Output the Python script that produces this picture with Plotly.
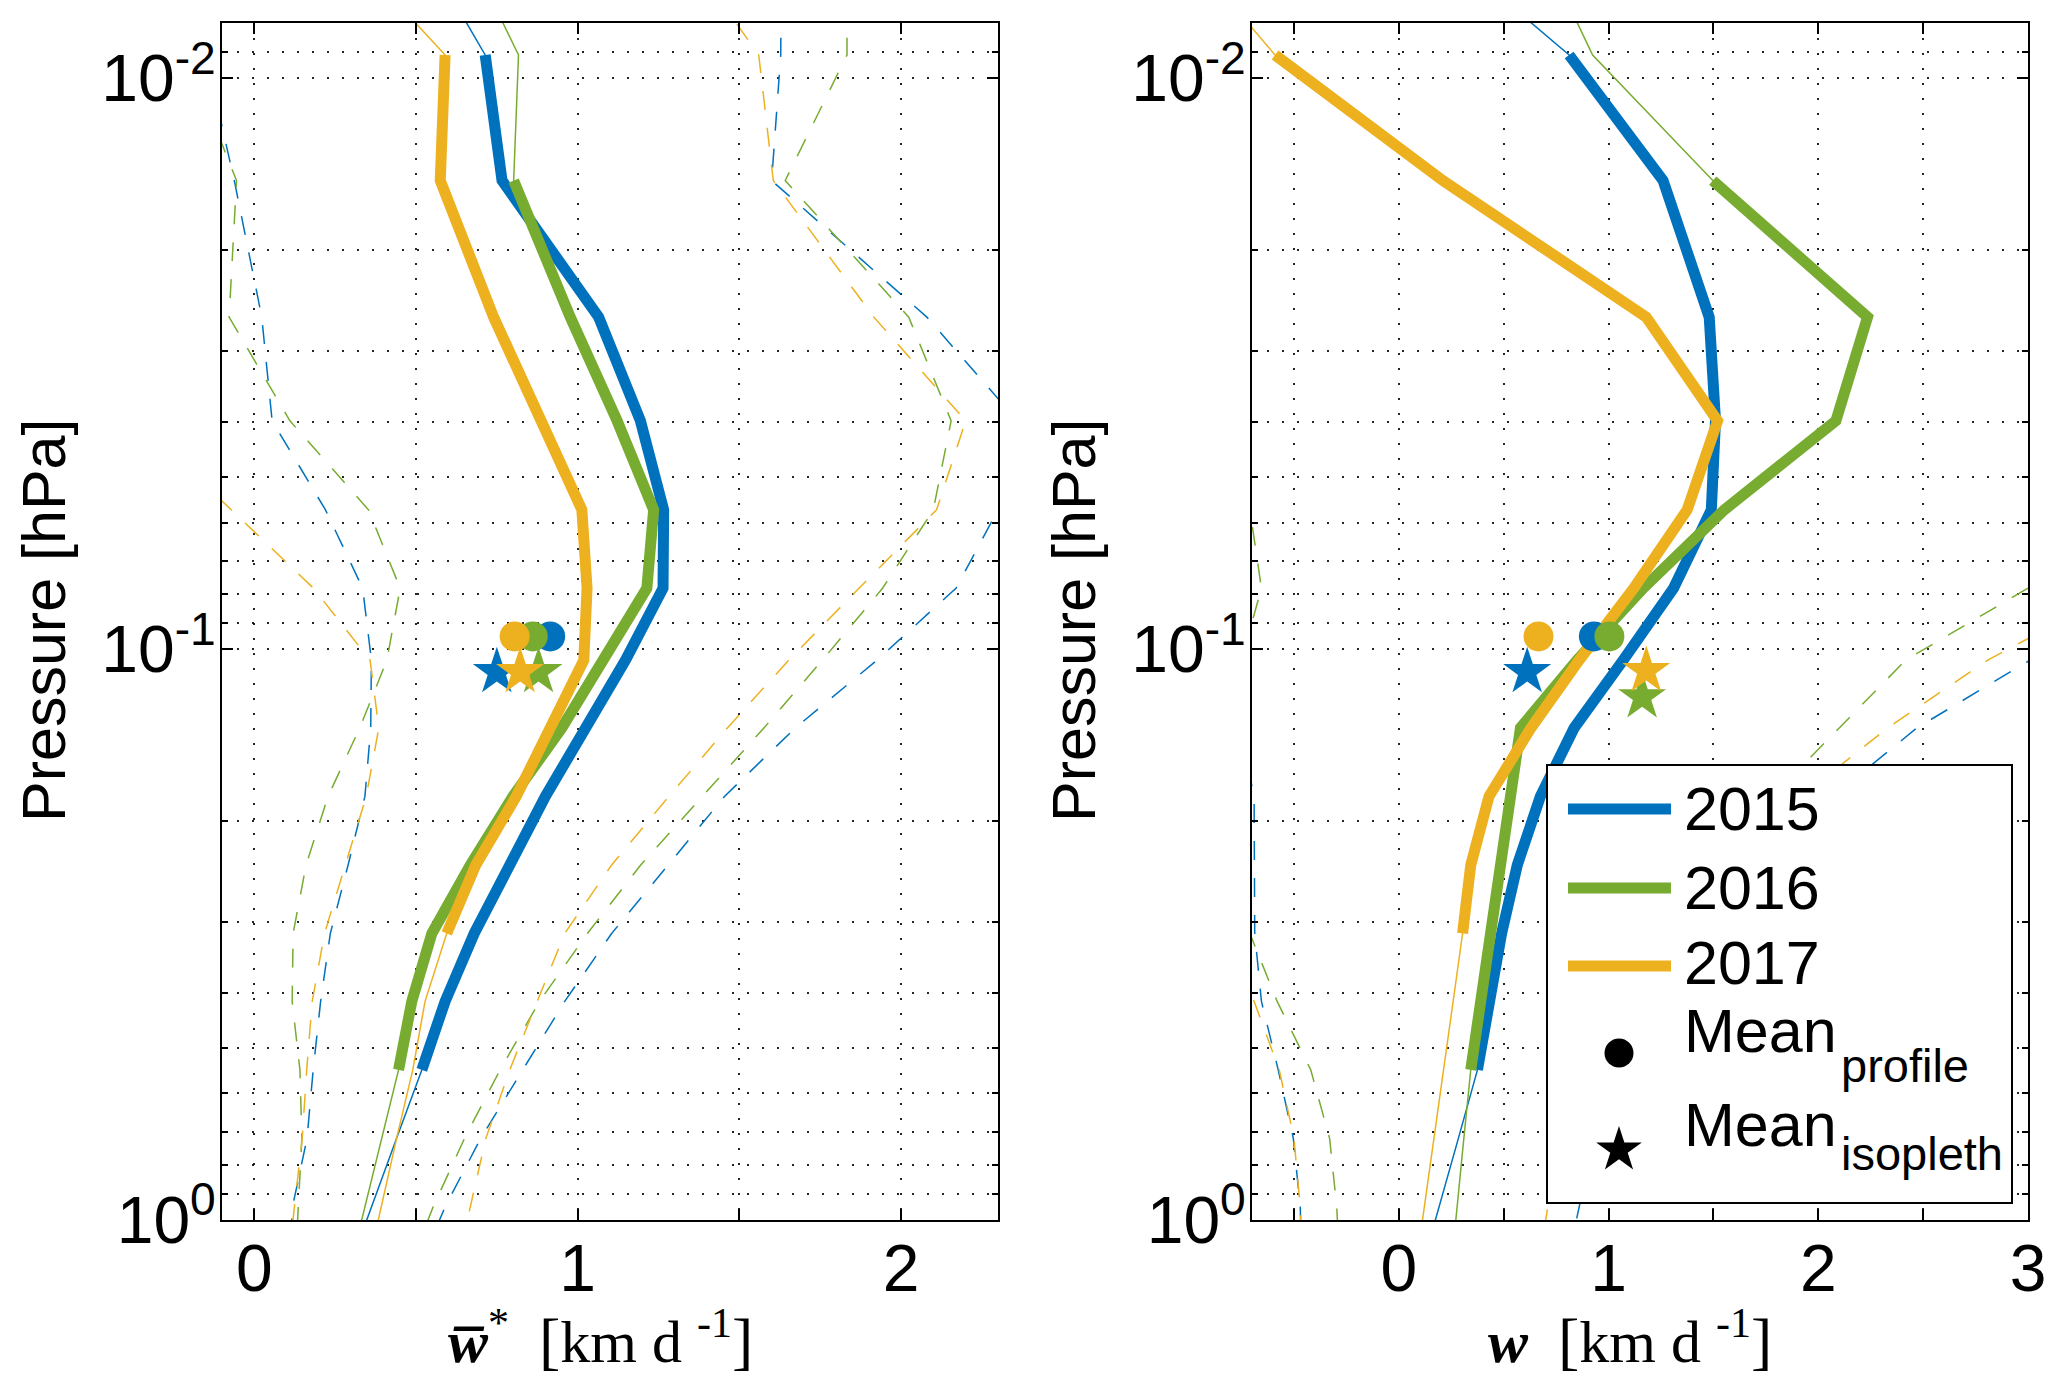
import math
import plotly.graph_objects as go

W, H = 2067, 1387
PAGE_OFF = 8  # default body margin of the html page (figure is drawn 8 px right/down)

# ---------------- data ----------------
# pressure levels (hPa) of the profiles
PRESSURE = [0.0063, 0.0091, 0.0151, 0.0262, 0.0398, 0.0570, 0.0782, 0.1045, 0.1374,
            0.1811, 0.2388, 0.3148, 0.4140, 0.5458, 0.7194, 0.9484, 1.25]
YEARS = ["2015", "2016", "2017"]
COLORS = ["#0072BD", "#77AC30", "#EDB120"]
THICK_START = [1, 2, 1]      # first level index of the bold part
THICK_END = [13, 13, 11]     # last level index of the bold part

# left panel: w-bar-star [km/d]
WSTAR_2015 = [0.55, 0.714, 0.766, 1.065, 1.194, 1.266, 1.264, 1.148, 1.029, 0.90, 0.79, 0.68, 0.59, 0.518, 0.44, 0.363, 0.285]
WSTAR_2016 = [0.68, 0.817, 0.802, 0.977, 1.122, 1.235, 1.214, 1.080, 0.951, 0.80, 0.668, 0.549, 0.487, 0.446, 0.394, 0.342, 0.29]
WSTAR_2017 = [0.33, 0.590, 0.575, 0.740, 0.887, 1.013, 1.029, 1.019, 0.915, 0.81, 0.685, 0.595, 0.528, 0.49, 0.44, 0.393, 0.345]
WSTAR_2015_LO = [-0.22, -0.15, -0.062, 0.023, 0.055, 0.22, 0.335, 0.362, 0.36, 0.342, 0.29, 0.235, 0.205, 0.182, 0.163, 0.118, 0.105]
WSTAR_2016_LO = [-0.33, -0.21, -0.055, -0.078, 0.11, 0.353, 0.451, 0.41, 0.326, 0.228, 0.16, 0.12, 0.117, 0.141, 0.147, 0.136, 0.125]
WSTAR_2017_LO = [None, None, None, None, -0.36, -0.073, 0.183, 0.358, 0.385, 0.346, 0.281, 0.217, 0.179, 0.162, 0.148, 0.123, 0.10]
WSTAR_2015_HI = [1.63, 1.628, 1.60, 2.08, 2.36, 2.30, 2.17, 1.926, 1.673, 1.454, 1.28, 1.105, 0.96, 0.83, 0.70, 0.59, 0.50]
WSTAR_2016_HI = [1.833, 1.833, 1.642, 2.024, 2.155, 2.10, 1.943, 1.757, 1.576, 1.385, 1.195, 1.03, 0.882, 0.76, 0.65, 0.553, 0.47]
WSTAR_2017_HI = [1.36, 1.56, 1.605, 1.916, 2.20, 2.11, 1.87, 1.653, 1.463, 1.282, 1.105, 0.96, 0.875, 0.79, 0.716, 0.667, 0.62]

# right panel: w [km/d]
W_2015 = [0.30, 0.812, 1.26, 1.48, 1.51, 1.49, 1.31, 1.07, 0.836, 0.675, 0.565, 0.49, 0.432, 0.375, 0.284, 0.193, 0.10]
W_2016 = [0.717, 0.924, 1.497, 2.235, 2.084, 1.552, 1.165, 0.85, 0.58, 0.534, 0.485, 0.439, 0.391, 0.343, 0.31, 0.278, 0.246]
W_2017 = [-0.96, -0.59, 0.21, 1.18, 1.52, 1.375, 1.12, 0.86, 0.63, 0.43, 0.343, 0.304, 0.259, 0.213, 0.168, 0.122, 0.076]
W_2015_LO = [None, None, None, None, None, None, None, -0.85, -0.76, -0.69, -0.69, -0.687, -0.655, -0.575, -0.503, -0.47, -0.46]
W_2016_LO = [None, None, None, None, -0.85, -0.71, -0.655, -0.75, -0.78, -0.80, -0.78, -0.71, -0.58, -0.42, -0.33, -0.296, -0.28]
W_2017_LO = [None, None, None, None, None, None, None, None, None, None, None, -0.85, -0.69, -0.57, -0.50, -0.47, -0.46]
W_2015_HI = [None, None, None, None, None, None, 3.5, 3.01, 2.47, 2.07, 1.74, 1.45, 1.22, 1.05, 0.93, 0.86, 0.79]
W_2016_HI = [None, None, None, None, None, 3.6, 3.0, 2.417, 2.10, 1.78, 1.48, 1.25, 1.07, 0.96, 0.89, 0.845, 0.81]
W_2017_HI = [None, None, None, None, None, 3.9, 3.45, 2.808, 2.33, 1.92, 1.60, 1.34, 1.10, 0.92, 0.80, 0.71, 0.66]

# mean values (markers)
MEAN_PROFILE_P = [0.095, 0.095, 0.095]
WSTAR_MEAN_PROFILE = [0.915, 0.861, 0.805]
WSTAR_MEAN_ISOPLETH = [0.750, 0.879, 0.822]
WSTAR_ISOPLETH_P = [0.1096, 0.1096, 0.1096]
W_MEAN_PROFILE = [0.93, 1.004, 0.666]
W_MEAN_ISOPLETH = [0.612, 1.16, 1.18]
W_ISOPLETH_P = [0.1096, 0.1213, 0.1091]

# axis ticks
Y_TICKS = [0.01, 0.1, 1]
Y_TICKTEXT = ["10<sup>-2</sup>", "10<sup>-1</sup>", "10<sup>0</sup>"]
Y_MINOR = [0.009, 0.02, 0.03, 0.04, 0.05, 0.06, 0.07, 0.08, 0.09,
           0.2, 0.3, 0.4, 0.5, 0.6, 0.7, 0.8, 0.9]
X1_TICKS = [0, 1, 2]
X1_MINOR = [0.5, 1.5]
X2_TICKS = [0, 1, 2, 3]
X2_MINOR = [-0.5, 0.5, 1.5, 2.5]


# page pixel -> paper fraction
def fx(px):
    return (px - PAGE_OFF) / W


def fy(py):
    return 1 - (py - PAGE_OFF) / H


# ---------------- figure ----------------
fig = go.Figure()

DASH = "19px,18px"
THIN_W = 1.5
THICK_W = 11


def add_panel(xa, ya, means, lows, highs, prof, iso, iso_p):
    for i in range(3):
        for series in (lows[i], highs[i]):
            fig.add_trace(go.Scatter(x=series, y=PRESSURE, mode="lines", xaxis=xa, yaxis=ya,
                                     line=dict(color=COLORS[i], width=THIN_W, dash=DASH),
                                     showlegend=False, hoverinfo="skip"))
    for i in range(3):
        fig.add_trace(go.Scatter(x=means[i], y=PRESSURE, mode="lines", xaxis=xa, yaxis=ya,
                                 line=dict(color=COLORS[i], width=THIN_W),
                                 showlegend=False, hoverinfo="skip"))
    for i in range(3):
        s, e = THICK_START[i], THICK_END[i] + 1
        fig.add_trace(go.Scatter(x=means[i][s:e], y=PRESSURE[s:e], mode="lines", xaxis=xa, yaxis=ya,
                                 line=dict(color=COLORS[i], width=THICK_W),
                                 name=YEARS[i], showlegend=False, hoverinfo="skip"))
    for i in range(3):
        fig.add_trace(go.Scatter(x=[prof[i]], y=[MEAN_PROFILE_P[i]], mode="markers", xaxis=xa, yaxis=ya,
                                 marker=dict(symbol="circle", size=30, color=COLORS[i], line=dict(width=0)),
                                 showlegend=False, hoverinfo="skip", cliponaxis=False))
    for i in range(3):
        fig.add_trace(go.Scatter(x=[iso[i]], y=[iso_p[i]], mode="markers", xaxis=xa, yaxis=ya,
                                 marker=dict(symbol="star", size=36, color=COLORS[i], line=dict(width=0)),
                                 showlegend=False, hoverinfo="skip", cliponaxis=False))


add_panel("x", "y",
          [WSTAR_2015, WSTAR_2016, WSTAR_2017],
          [WSTAR_2015_LO, WSTAR_2016_LO, WSTAR_2017_LO],
          [WSTAR_2015_HI, WSTAR_2016_HI, WSTAR_2017_HI],
          WSTAR_MEAN_PROFILE, WSTAR_MEAN_ISOPLETH, WSTAR_ISOPLETH_P)
add_panel("x2", "y2",
          [W_2015, W_2016, W_2017],
          [W_2015_LO, W_2016_LO, W_2017_LO],
          [W_2015_HI, W_2016_HI, W_2017_HI],
          W_MEAN_PROFILE, W_MEAN_ISOPLETH, W_ISOPLETH_P)

GRID_COLOR = "rgba(0,0,0,0.85)"
GRID_DASH = "2px,13px"
TICK_FONT = dict(family="Liberation Sans, Arial, sans-serif", size=66, color="black")

common = dict(showline=True, linecolor="black", linewidth=2, mirror="ticks",
              ticks="inside", ticklen=11, tickwidth=2, tickcolor="black",
              showgrid=True, gridcolor=GRID_COLOR, gridwidth=2, griddash=GRID_DASH,
              zeroline=False, tickfont=TICK_FONT, fixedrange=True, automargin=False)


def x_minor(vals):
    return dict(tickmode="array", tickvals=vals, ticks="inside", ticklen=11, tickwidth=2,
                tickcolor="black", showgrid=True, gridcolor=GRID_COLOR, gridwidth=2,
                griddash=GRID_DASH)


PLOT_TOP, PLOT_BOTTOM = 23, 1220
y_dom = [fy(PLOT_BOTTOM), fy(PLOT_TOP)]

yax = dict(common, type="log", range=[0, -2.097], tickmode="array",
           tickvals=Y_TICKS, ticktext=Y_TICKTEXT, domain=y_dom, ticklabelstandoff=-9,
           minor=dict(tickmode="array", tickvals=Y_MINOR, ticks="inside", ticklen=6,
                      tickwidth=1.5, tickcolor="black", showgrid=True,
                      gridcolor=GRID_COLOR, gridwidth=2, griddash=GRID_DASH))

fig.update_layout(
    width=W, height=H,
    margin=dict(l=0, r=0, t=0, b=0),
    paper_bgcolor="white", plot_bgcolor="white",
    showlegend=False,
    xaxis=dict(common, range=[-0.1, 2.3], tickmode="array", tickvals=X1_TICKS,
               minor=x_minor(X1_MINOR), domain=[fx(222), fx(998)], anchor="y", ticklabelstandoff=-10),
    yaxis=dict(yax, anchor="x"),
    xaxis2=dict(common, range=[-0.7, 3.0], tickmode="array", tickvals=X2_TICKS,
                minor=x_minor(X2_MINOR), domain=[fx(1252), fx(2028)], anchor="y2", ticklabelstandoff=-10),
    yaxis2=dict(yax, anchor="x2"),
)

# ---------------- axis titles ----------------
LABEL_FONT = dict(family="Liberation Sans, Arial, sans-serif", size=61, color="black")
SERIF = dict(family="Liberation Serif, Times New Roman, serif", size=60, color="black")
ann = []
for xc in (44, 1074):
    ann.append(dict(text="Pressure [hPa]", x=fx(xc), y=fy(621), xref="paper", yref="paper",
                    xanchor="center", yanchor="middle", textangle=-90, showarrow=False, font=LABEL_FONT))
BR_L = '<span style="font-size:64px">[</span>'
BR_R = '<span style="font-size:64px">]</span>'
ann.append(dict(text="<b><i>w\u0305</i></b><sup>*</sup>\u00a0\u00a0" + BR_L + "km\u00a0d\u00a0<sup>-1</sup>" + BR_R,
                x=fx(600), y=fy(1338), xref="paper", yref="paper",
                xanchor="center", yanchor="middle", showarrow=False, font=SERIF))
ann.append(dict(text="<b><i>w</i></b>\u00a0\u00a0" + BR_L + "km\u00a0d\u00a0<sup>-1</sup>" + BR_R,
                x=fx(1630), y=fy(1338), xref="paper", yref="paper",
                xanchor="center", yanchor="middle", showarrow=False, font=SERIF))

# ---------------- legend (drawn by hand, MATLAB style) ----------------
shapes = [dict(type="rect", xref="paper", yref="paper", x0=fx(1547), x1=fx(2012),
               y0=fy(1203), y1=fy(765), fillcolor="white",
               line=dict(color="black", width=2), layer="above")]
LEG_LINE_Y = [809, 888, 966]
LEG_TEXT_Y = [809, 888, 963]
for i in range(3):
    shapes.append(dict(type="line", xref="paper", yref="paper", x0=fx(1568), x1=fx(1671),
                       y0=fy(LEG_LINE_Y[i]), y1=fy(LEG_LINE_Y[i]),
                       line=dict(color=COLORS[i], width=THICK_W), layer="above"))
    ann.append(dict(text=YEARS[i], x=fx(1682), y=fy(LEG_TEXT_Y[i]), xref="paper", yref="paper",
                    xanchor="left", yanchor="middle", showarrow=False, font=LABEL_FONT))

LEG_MX = 1619
shapes.append(dict(type="circle", xref="paper", yref="paper", xsizemode="pixel", ysizemode="pixel",
                   xanchor=fx(LEG_MX), yanchor=fy(1053), x0=-14.5, x1=14.5, y0=-14.5, y1=14.5,
                   fillcolor="black", line=dict(width=0), layer="above"))


def star_path(R):
    pts = []
    for k in range(10):
        a = math.pi / 2 + k * math.pi / 5
        r = R if k % 2 == 0 else R * 0.382
        pts.append((r * math.cos(a), r * math.sin(a)))
    return "M" + "L".join(f"{x:.2f},{y:.2f}" for x, y in pts) + "Z"


shapes.append(dict(type="path", xref="paper", yref="paper", xsizemode="pixel", ysizemode="pixel",
                   xanchor=fx(LEG_MX), yanchor=fy(1150), path=star_path(24),
                   fillcolor="black", line=dict(width=0), layer="above"))

SUB_FONT = dict(family="Liberation Sans, Arial, sans-serif", size=47, color="black")
for main_y, sub_text, sub_y in ((1031, "profile", 1065), (1125, "isopleth", 1153)):
    ann.append(dict(text="Mean", x=fx(1682), y=fy(main_y), xref="paper", yref="paper",
                    xanchor="left", yanchor="middle", showarrow=False, font=LABEL_FONT))
    ann.append(dict(text=sub_text, x=fx(1839), y=fy(sub_y), xref="paper", yref="paper",
                    xanchor="left", yanchor="middle", showarrow=False, font=SUB_FONT))

fig.update_layout(annotations=ann, shapes=shapes)

fig.write_html("out.html")
